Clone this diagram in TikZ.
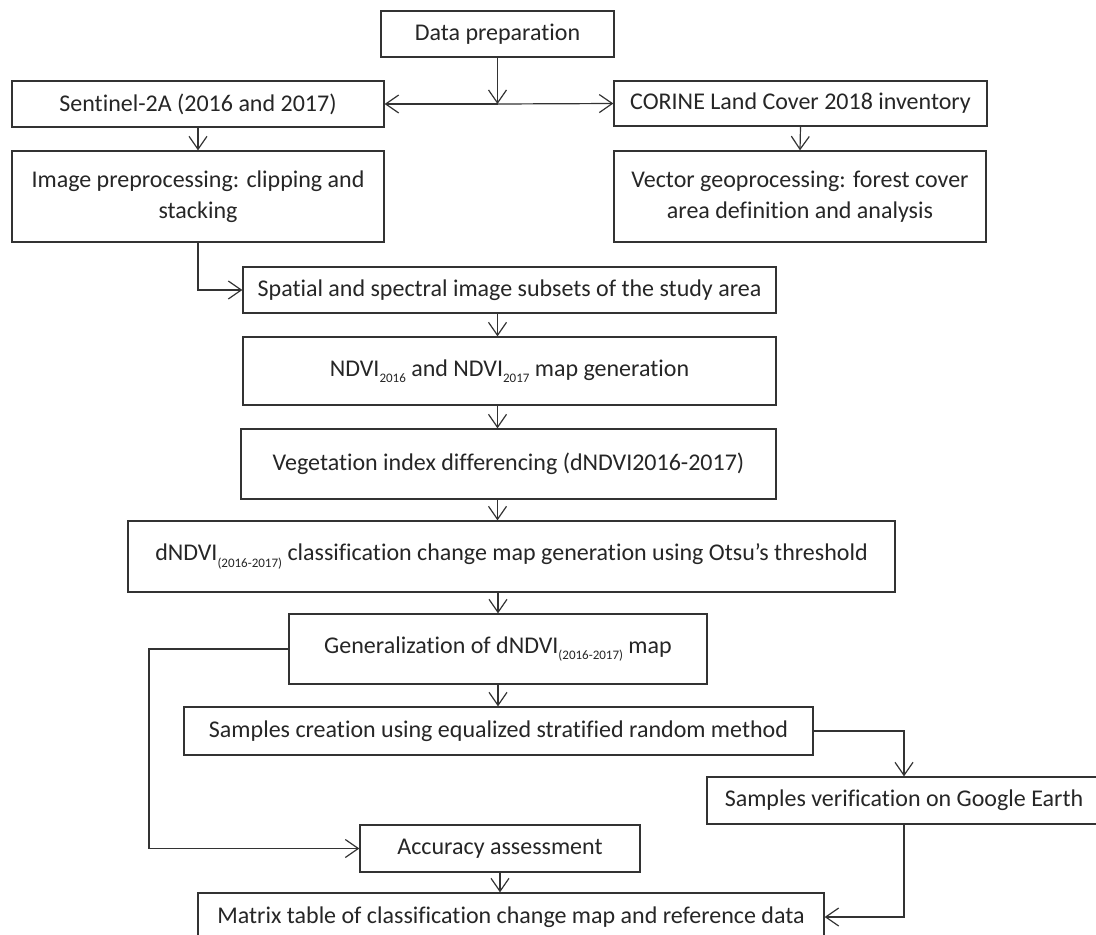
\documentclass[tikz,border=0pt]{standalone}
\usepackage{fontspec}
\setmainfont{Carlito}[Ligatures=NoCommon]
\usepackage{tikz}
\usetikzlibrary{arrows.meta}
\pgfdeclarelayer{edgelayer}
\pgfdeclarelayer{nodelayer}
\pgfsetlayers{edgelayer,nodelayer,main}
\tikzstyle{stage}=[rectangle, draw=black!80, fill=white, line width=1.3pt, text=black!85, align=center, inner sep=0pt, font=\fontsize{24}{31}\selectfont]
\tikzstyle{flow}=[-{Straight Barb[length=13pt,width=18pt]}, draw=black!80, line width=1.2pt]
\newcommand{\yrsub}[1]{\raisebox{-6.5pt}{\fontsize{13}{13}\selectfont #1}}

\begin{document}
\begin{tikzpicture}[x=1pt, y=-1pt]
    \useasboundingbox (0,0) rectangle (1096,935);
    \begin{pgfonlayer}{nodelayer}
        \node [style=stage, minimum width=233, minimum height=46] (prep) at (497.5, 34) {Data preparation};
        \node [style=stage, minimum width=372, minimum height=46] (sentinel) at (198, 104) {Sentinel-2A (2016 and 2017)};
        \node [style=stage, minimum width=373, minimum height=45] (corine) at (800.5, 103.5) {CORINE Land Cover 2018 inventory};
        \node [style=stage, minimum width=372, minimum height=91] (preproc) at (198, 196.5) {Image preprocessing: clipping and\\stacking};
        \node [style=stage, minimum width=372, minimum height=91] (vector) at (800, 196.5) {Vector geoprocessing: forest cover\\area definition and analysis};
        \node [style=stage, minimum width=533, minimum height=46] (subsets) at (509.5, 290) {Spatial and spectral image subsets of the study area};
        \node [style=stage, minimum width=533, minimum height=68] (ndvi) at (509.5, 371) {NDVI\yrsub{2016} and NDVI\yrsub{2017} map generation};
        \node [style=stage, minimum width=535, minimum height=70] (differ) at (508.5, 464) {Vegetation index differencing (dNDVI2016-2017)};
        \node [style=stage, minimum width=767, minimum height=71] (otsu) at (511.5, 556.5) {dNDVI\yrsub{(2016-2017)} classification change map generation using Otsu’s threshold};
        \node [style=stage, minimum width=418, minimum height=70] (general) at (498, 649) {Generalization of dNDVI\yrsub{(2016-2017)} map};
        \node [style=stage, minimum width=629, minimum height=48] (samples) at (498.5, 731) {Samples creation using equalized stratified random method};
        \node [style=stage, minimum width=394, minimum height=47] (verify) at (904, 800.5) {Samples verification on Google Earth};
        \node [style=stage, minimum width=280, minimum height=47] (accuracy) at (500, 848.5) {Accuracy assessment};
        \node [style=stage, minimum width=626, minimum height=48] (confusion) at (511, 917) {Matrix table of classification change map and reference data};
    \end{pgfonlayer}
    \coordinate (split) at (prep.south |- sentinel.east);
    \coordinate (axis) at (497.5, 0);
    \coordinate (loop) at (149, 649);
    \begin{pgfonlayer}{edgelayer}
        \draw [style=flow] (prep.south) to (split);
        \draw [style=flow] (split) to (sentinel.east);
        \draw [style=flow] (split) to (corine.west);
        \draw [style=flow] (sentinel.south) to (preproc.north);
        \draw [style=flow] (corine.south) to (vector.north);
        \draw [style=flow] (preproc.south) |- (subsets.west);
        \draw [style=flow] (subsets.south -| axis) to (ndvi.north -| axis);
        \draw [style=flow] (ndvi.south -| axis) to (differ.north -| axis);
        \draw [style=flow] (differ.south -| axis) to (otsu.north -| axis);
        \draw [style=flow] (otsu.south -| general.north) to (general.north);
        \draw [style=flow] (general.south) to (samples.north -| general.south);
        \draw [style=flow] (samples.east) -| (verify.north);
        \draw [style=flow] (general.west) to (loop) |- (accuracy.west);
        \draw [style=flow] (accuracy.south) to (confusion.north -| accuracy.south);
        \draw [style=flow] (verify.south) |- (confusion.east);
    \end{pgfonlayer}
\end{tikzpicture}
\end{document}
